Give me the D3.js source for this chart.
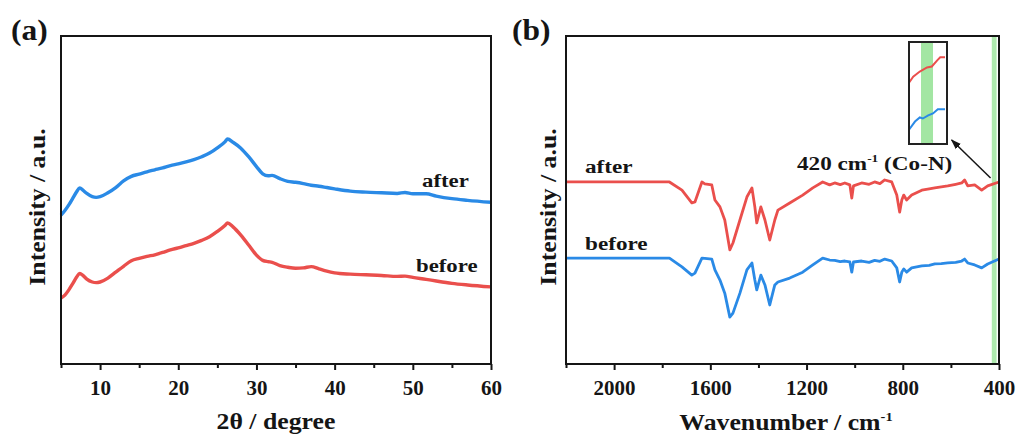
<!DOCTYPE html>
<html>
<head>
<meta charset="utf-8">
<script src="https://cdn.jsdelivr.net/npm/d3@7"></script>
<style>
  html, body { margin: 0; padding: 0; background: #fff; }
  svg { display: block; }
  text { font-family: "Liberation Serif", "Times New Roman", serif; font-weight: bold; fill: #151515; }
</style>
</head>
<body>
<svg id="chart" width="1021" height="441"></svg>
<script>
// ---------- (a) XRD patterns: 2θ (degree) vs intensity (a.u.) ----------
const xrdAngle = [5, 5.5, 6, 6.5, 7, 7.4, 7.8, 8.3, 9, 9.5, 10, 11, 12, 13, 14, 15, 16, 17, 18, 19, 20,
  21, 22, 23, 24, 25, 26, 26.3, 27, 28, 29, 30, 30.8, 31.5, 32, 33, 34, 35, 36, 37, 38, 39, 40,
  42, 44, 46, 48, 49, 50, 51.7, 53, 55, 57, 60];
const xrdAfter = [45.4, 46.8, 48.5, 50.5, 52.5, 53.7, 53.0, 52.0, 51.0, 50.8, 51.0, 52.2, 53.8, 55.8, 57.2,
  57.9, 58.6, 59.2, 59.8, 60.5, 61.0, 61.6, 62.3, 63.2, 64.3, 65.9, 67.8, 68.6, 67.6, 65.8, 63.2,
  60.2, 58.0, 57.4, 57.5, 56.5, 55.7, 55.4, 55.0, 54.5, 54.2, 53.8, 53.4, 52.7, 52.4, 52.2, 52.0,
  52.3, 51.9, 51.9, 51.2, 50.4, 49.9, 49.3];
const xrdBefore = [20.1, 21.0, 22.6, 24.5, 26.5, 27.6, 27.0, 25.9, 25.0, 24.8, 25.0, 26.2, 28.0, 29.8, 31.5,
  32.2, 32.8, 33.3, 34.0, 34.8, 35.4, 36.1, 36.8, 37.7, 38.8, 40.4, 42.3, 43.0, 41.8, 39.3, 36.3,
  33.2, 31.6, 31.2, 31.0, 30.0, 29.5, 29.2, 29.3, 29.7, 29.0, 28.3, 27.8, 27.4, 27.2, 27.0, 26.7,
  26.8, 26.4, 25.8, 25.3, 24.6, 24.1, 23.5];
const xrdMajorTicks = [10, 20, 30, 40, 50, 60];
const xrdMinorTicks = [5, 15, 25, 35, 45, 55];

// ---------- (b) FTIR spectra: wavenumber (cm-1) vs intensity (a.u.) ----------
const irWave = [2200, 1770, 1718, 1677, 1664, 1635, 1623, 1594, 1581, 1560, 1540, 1519, 1506, 1477,
  1448, 1427, 1415, 1407, 1390, 1373, 1353, 1332, 1319, 1270, 1216, 1174, 1133, 1104, 1083, 1060, 1041,
  1020, 1012, 1005, 971, 940, 917, 895, 875, 846, 825, 813, 804, 796, 784, 763, 721, 690, 667, 640, 613,
  580, 555, 543, 530, 501, 472, 447, 400];
const irAfter = [55.5, 55.5, 53.0, 49.1, 49.4, 55.5, 54.9, 54.6, 50.0, 47.9, 43.9, 34.8, 36.9, 43.9,
  50.9, 53.7, 47.9, 43.0, 47.9, 43.9, 37.8, 43.9, 46.9, 49.1, 51.5, 53.7, 55.5, 54.6, 55.2, 54.7, 55.2,
  54.6, 50.6, 54.3, 55.2, 54.8, 55.5, 55.0, 56.1, 55.5, 51.5, 46.3, 50.0, 51.5, 50.0, 51.5, 53.0, 53.4,
  53.7, 54.0, 54.3, 54.8, 55.2, 56.1, 54.3, 54.6, 53.0, 54.3, 55.5];
const irBefore = [32.3, 32.3, 29.6, 27.1, 27.7, 32.3, 32.2, 32.0, 28.7, 25.6, 21.6, 14.3, 15.5, 21.6,
  28.7, 30.8, 25.6, 22.6, 27.1, 24.1, 18.0, 24.1, 25.0, 26.2, 28.0, 30.2, 32.3, 31.7, 31.6, 31.2, 31.4,
  31.1, 28.0, 31.1, 31.4, 31.0, 31.6, 31.3, 32.0, 31.4, 29.3, 25.0, 28.0, 29.0, 28.0, 29.3, 29.9, 30.1,
  30.5, 30.6, 30.8, 31.0, 31.4, 32.0, 30.8, 30.2, 29.3, 30.5, 32.0];
const irMajorTicks = [2000, 1600, 1200, 800, 400];
const irMinorTicks = [2200, 1800, 1400, 1000, 600];
const coNBand = [430, 410];          // highlighted Co-N region (cm-1)

// Enlarged view of the Co-N region (relative intensity)
const zoomWave = [450, 443, 432, 420, 412, 403, 398, 390];
const zoomAfter = [0.60, 0.66, 0.71, 0.75, 0.76, 0.82, 0.85, 0.85];
const zoomBeforeWave = [450, 440, 432, 427, 418, 410, 402, 390];
const zoomBefore = [0.14, 0.22, 0.26, 0.25, 0.28, 0.30, 0.34, 0.34];
const zoomBand = [430, 410];

const RED = "#ea4f4c";
const BLUE = "#2a8ae6";
const GREEN = "#aee9ae";

const svg = d3.select("#chart");

// panel frames
const frameA = { x0: 61, x1: 491, y0: 36, y1: 364 };
const frameB = { x0: 566, x1: 999, y0: 36, y1: 364 };

function addText(parent, x, y, size, sx, anchor, rotate) {
  return parent.append("text")
    .attr("transform", `translate(${x},${y})` + (rotate ? ` rotate(${rotate})` : "") + ` scale(${sx},1)`)
    .attr("font-size", size)
    .attr("text-anchor", anchor || "start");
}

function drawAxes(frame, xScale, major, minor, fmt) {
  const g = svg.append("g");
  g.append("g")
    .attr("transform", `translate(0,${frame.y1})`)
    .call(d3.axisBottom(xScale).tickValues(minor).tickSize(4).tickFormat(""))
    .call(s => s.select(".domain").remove())
    .call(s => s.selectAll("line").attr("stroke", "#151515").attr("stroke-width", 2));
  const ax = g.append("g")
    .attr("transform", `translate(0,${frame.y1})`)
    .call(d3.axisBottom(xScale).tickValues(major).tickSize(6).tickPadding(10).tickFormat(fmt))
    .call(s => s.select(".domain").remove())
    .call(s => s.selectAll("line").attr("stroke", "#151515").attr("stroke-width", 2));
  ax.selectAll("text")
    .attr("font-size", 21)
    .attr("font-family", "Liberation Serif, Times New Roman, serif")
    .attr("font-weight", "bold")
    .attr("fill", "#151515");
  g.append("rect")
    .attr("x", frame.x0).attr("y", frame.y0)
    .attr("width", frame.x1 - frame.x0).attr("height", frame.y1 - frame.y0)
    .attr("fill", "none").attr("stroke", "#151515").attr("stroke-width", 2);
  return g;
}

// ================= (a) =================
const xA = d3.scaleLinear().domain([5, 60]).range([frameA.x0, frameA.x1]);
const yA = d3.scaleLinear().domain([0, 100]).range([frameA.y1, frameA.y0]);

const lineA = (ys) => d3.line().x((d, i) => xA(xrdAngle[i])).y((d, i) => yA(ys[i])).curve(d3.curveMonotoneX)(ys);

svg.append("path").attr("d", lineA(xrdBefore)).attr("fill", "none")
  .attr("stroke", RED).attr("stroke-width", 3.4).attr("stroke-linejoin", "round");
svg.append("path").attr("d", lineA(xrdAfter)).attr("fill", "none")
  .attr("stroke", BLUE).attr("stroke-width", 3.4).attr("stroke-linejoin", "round");

drawAxes(frameA, xA, xrdMajorTicks, xrdMinorTicks, d3.format("d"));

addText(svg, 422, 187, 19, 1.2).text("after");
addText(svg, 416, 272, 19, 1.2).text("before");
addText(svg, 11, 40, 30, 1.05).text("(a)");
addText(svg, 276, 429, 23, 1.12, "middle").text("2θ / degree");
addText(svg, 45, 207, 23, 1.12, "middle", -90).text("Intensity / a.u.");

// ================= (b) =================
const xB = d3.scaleLinear().domain([2200, 400]).range([frameB.x0, frameB.x1]);
const yB = d3.scaleLinear().domain([0, 100]).range([frameB.y1, frameB.y0]);

// Co-N highlight band
svg.append("rect")
  .attr("x", xB(coNBand[0])).attr("y", frameB.y0)
  .attr("width", xB(coNBand[1]) - xB(coNBand[0])).attr("height", frameB.y1 - frameB.y0)
  .attr("fill", GREEN);

const lineB = (ys) => d3.line().x((d, i) => xB(irWave[i])).y((d, i) => yB(ys[i]))(ys);

svg.append("path").attr("d", lineB(irBefore)).attr("fill", "none")
  .attr("stroke", BLUE).attr("stroke-width", 2.8).attr("stroke-linejoin", "round");
svg.append("path").attr("d", lineB(irAfter)).attr("fill", "none")
  .attr("stroke", RED).attr("stroke-width", 2.8).attr("stroke-linejoin", "round");

drawAxes(frameB, xB, irMajorTicks, irMinorTicks, d3.format("d"));

addText(svg, 585, 173, 19, 1.22).text("after");
addText(svg, 585, 250, 19, 1.22).text("before");
addText(svg, 512, 40, 30, 1.05).text("(b)");

const wl = addText(svg, 786, 430, 23, 1.12, "middle");
wl.append("tspan").text("Wavenumber / cm");
wl.append("tspan").attr("dy", -9).attr("font-size", 13).text("-1");

addText(svg, 556, 207, 23, 1.12, "middle", -90).text("Intensity / a.u.");

// annotation
const ann = addText(svg, 797, 170, 19, 1.22);
ann.append("tspan").text("420 cm");
ann.append("tspan").attr("dy", -8).attr("font-size", 11).text("-1");
ann.append("tspan").attr("dy", 8).text(" (Co-N)");

// enlarged inset of the Co-N region
const inset = { x0: 909, x1: 947, y0: 42, y1: 144 };
const xI = d3.scaleLinear().domain([450, 386.7]).range([inset.x0, inset.x1]);
const yI = d3.scaleLinear().domain([0, 1]).range([inset.y1, inset.y0]);
svg.append("rect")
  .attr("x", xI(zoomBand[0])).attr("y", inset.y0)
  .attr("width", xI(zoomBand[1]) - xI(zoomBand[0])).attr("height", inset.y1 - inset.y0)
  .attr("fill", "#a3e6a3");
svg.append("path")
  .attr("d", d3.line().x((d, i) => xI(zoomWave[i])).y(d => yI(d))(zoomAfter))
  .attr("fill", "none").attr("stroke", RED).attr("stroke-width", 2);
svg.append("path")
  .attr("d", d3.line().x((d, i) => xI(zoomBeforeWave[i])).y(d => yI(d))(zoomBefore))
  .attr("fill", "none").attr("stroke", BLUE).attr("stroke-width", 2);
svg.append("rect")
  .attr("x", inset.x0).attr("y", inset.y0)
  .attr("width", inset.x1 - inset.x0).attr("height", inset.y1 - inset.y0)
  .attr("fill", "none").attr("stroke", "#222").attr("stroke-width", 2);

// arrow from the Co-N band to the inset
svg.append("defs").append("marker")
  .attr("id", "arrowhead").attr("viewBox", "0 0 10 10")
  .attr("refX", 9).attr("refY", 5)
  .attr("markerWidth", 7).attr("markerHeight", 7)
  .attr("orient", "auto-start-reverse")
  .append("path").attr("d", "M0,1.5 L10,5 L0,8.5 Z").attr("fill", "#151515");
svg.append("line")
  .attr("x1", xB(435)).attr("y1", yB(56.7))
  .attr("x2", xB(597)).attr("y2", yB(68.3))
  .attr("stroke", "#151515").attr("stroke-width", 1.5)
  .attr("marker-end", "url(#arrowhead)");
</script>
</body>
</html>
